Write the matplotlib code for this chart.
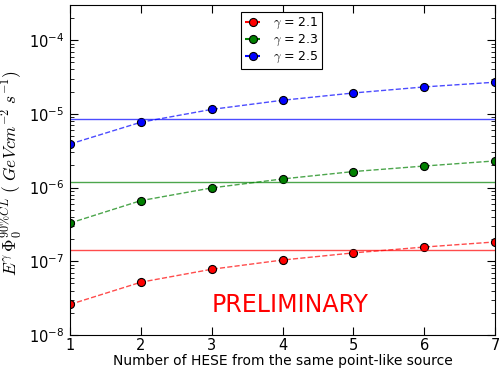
import numpy as np
import matplotlib
matplotlib.use('Agg')
import matplotlib.pyplot as plt

plt.rcParams['mathtext.fontset'] = 'cm'

# number of HESE events from the same source
n_hese = [1, 2, 3, 4, 5, 6, 7]

# 90% CL flux limits for each spectral index
flux_21 = [2.6e-8, 5.2e-8, 7.8e-8, 1.04e-7, 1.3e-7, 1.56e-7, 1.83e-7]
flux_23 = [3.3e-7, 6.65e-7, 9.9e-7, 1.31e-6, 1.65e-6, 1.96e-6, 2.3e-6]
flux_25 = [3.9e-6, 7.7e-6, 1.15e-5, 1.53e-5, 1.92e-5, 2.32e-5, 2.69e-5]

# reference horizontal levels
level_21 = 1.42e-7
level_23 = 1.18e-6
level_25 = 8.4e-6

gammas = ['2.1', '2.3', '2.5']
colors = ['red', 'green', 'blue']

fig = plt.figure(figsize=(4.99, 3.71), dpi=100)
ax = fig.add_axes([70/499, 36/371, 425/499, 330/371])

series = [flux_21, flux_23, flux_25]
levels = [level_21, level_23, level_25]
for vals, lev, g, c in zip(series, levels, gammas, colors):
    ax.plot(n_hese, vals, '--', color=c, alpha=0.7, lw=1)
    ax.plot(n_hese, vals, 'o', color=c, mec='black', mew=0.8, ms=5.8)
    ax.axhline(lev, color=c, lw=1, alpha=0.7)
    # legend proxy
    ax.plot([], [], '--o', color=c, mec='black', mew=0.8, ms=5.8,
            label=r'$\gamma$ = ' + g)

ax.set_yscale('log')
ax.set_ylim(1e-8, 3e-4)
ax.set_xlim(1, 7)
ax.set_xticks(n_hese)

ax.tick_params(which='both', direction='in', top=True, right=True)
ax.tick_params(which='major', length=6, labelsize=10.5)
ax.tick_params(which='minor', length=3)
ax.tick_params(axis='x', pad=2)
ax.tick_params(axis='y', pad=4)

ax.set_xlabel('Number of HESE from the same point-like source', fontsize=10, labelpad=1)
ax.set_ylabel(r'$E^\gamma\,\Phi_0^{90\%CL}\ (\ GeV cm^{-2}\ s^{-1})$', fontsize=12.5)
ax.yaxis.set_label_coords(-0.108, 0.49)

ax.text(0.518, 0.09, 'PRELIMINARY', color='red', fontsize=17,
        ha='center', va='center', transform=ax.transAxes)

leg = ax.legend(loc='upper center', fontsize=9, handlelength=1.2,
                fancybox=False, framealpha=1, edgecolor='black',
                borderpad=0.3, labelspacing=0.15, handletextpad=1.0,
                bbox_to_anchor=(0.498, 0.997))
leg.get_frame().set_linewidth(0.8)

fig.savefig('out.png', dpi=100)
